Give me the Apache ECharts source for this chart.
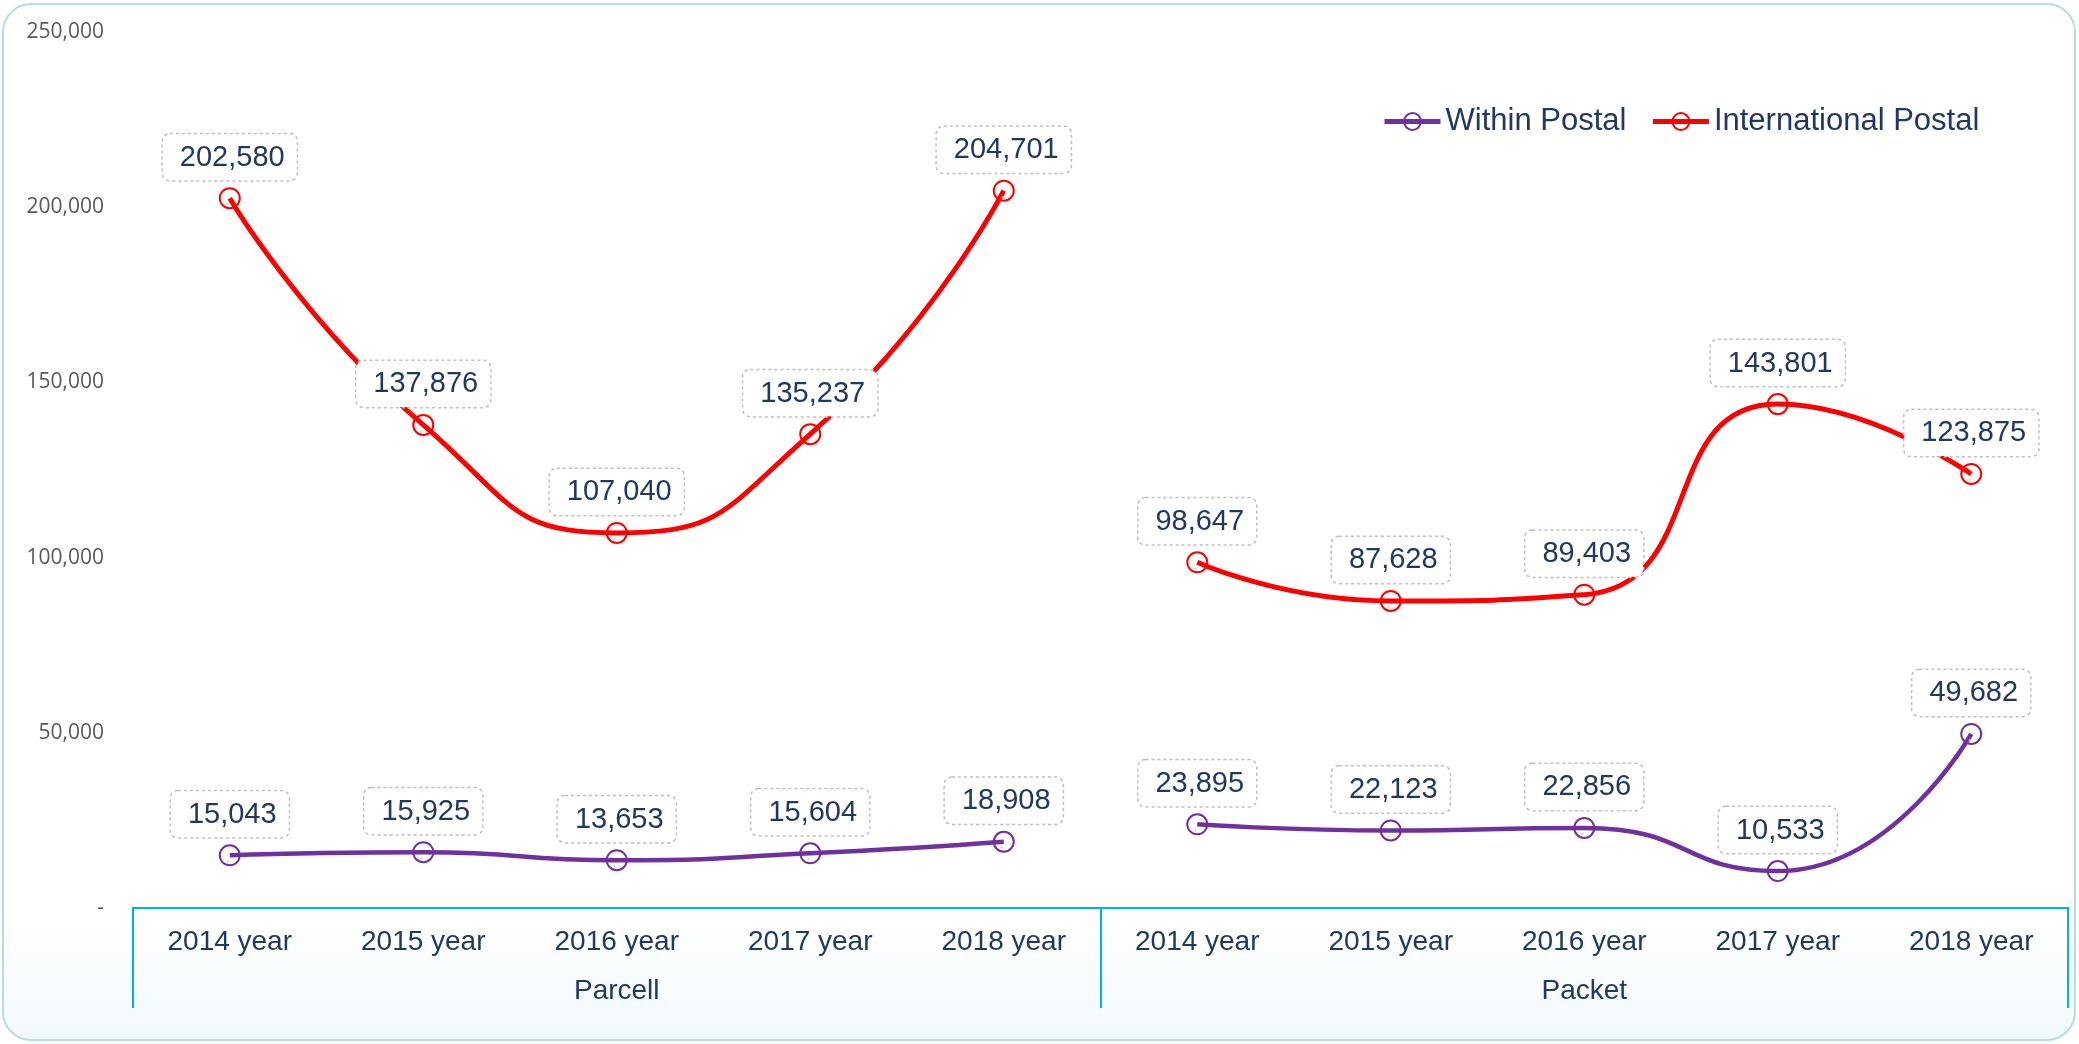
<!DOCTYPE html>
<html>
<head>
<meta charset="utf-8">
<script src="https://cdn.jsdelivr.net/npm/echarts@6/dist/echarts.min.js"></script>
<style>
  html, body { margin: 0; padding: 0; background: #ffffff; }
  #chart { width: 2079px; height: 1044px; }
</style>
</head>
<body>
<div id="chart"></div>
<script>
// Mail volume by year, split into two groups on a two-level category axis
const groups = ['Parcell', 'Packet'];
const years = ['2014 year', '2015 year', '2016 year', '2017 year', '2018 year'];

const parcellWithin = [15043, 15925, 13653, 15604, 18908];
const parcellIntl = [202580, 137876, 107040, 135237, 204701];
const packetWithin = [23895, 22123, 22856, 10533, 49682];
const packetIntl = [98647, 87628, 89403, 143801, 123875];

const yMin = 0;
const yMax = 250000;
const yStep = 50000;

// Category keys carry the group so repeated year labels stay distinct
const categories = [];
groups.forEach(g => years.forEach(y => categories.push(g + '|' + y)));

const blank = years.map(() => '-');
const firstGroup = vals => vals.concat(blank);
const secondGroup = vals => blank.concat(vals);

const NAVY = '#1F3864';
const PURPLE = '#7030A0';
const RED = '#FF0000';
const SANS = 'Liberation Sans, Arial, sans-serif';
const fmt = v => Number(v).toLocaleString('en-US');

function lineSeries(name, color, width, data) {
  return {
    name: name,
    type: 'line',
    smooth: 0.55,
    data: data,
    symbol: 'circle',
    symbolSize: 20,
    lineStyle: { color: color, width: width },
    itemStyle: { color: 'rgba(255,255,255,0)', borderColor: color, borderWidth: 2 },
    label: {
      show: true,
      position: 'top',
      distance: 7,
      formatter: p => fmt(p.value),
      fontFamily: SANS,
      fontSize: 29,
      color: NAVY,
      backgroundColor: '#ffffff',
      borderColor: '#BFBFBF',
      borderWidth: 1.5,
      borderType: 'dotted',
      borderRadius: 7,
      padding: [9, 12, 8, 17]
    },
    labelLine: {
      show: true,
      lineStyle: { color: '#BFBFBF', width: 1.5, type: 'dotted' }
    },
    emphasis: { disabled: true }
  };
}

const chart = echarts.init(document.getElementById('chart'));
chart.setOption({
  animation: false,
  backgroundColor: '#ffffff',
  graphic: [{
    type: 'rect',
    z: -10,
    silent: true,
    shape: { x: 3, y: 4, width: 2072, height: 1036, r: 28 },
    style: {
      fill: {
        type: 'linear', x: 0, y: 0, x2: 0, y2: 1,
        colorStops: [
          { offset: 0, color: '#ffffff' },
          { offset: 0.88, color: '#ffffff' },
          { offset: 1, color: '#F1F9FC' }
        ]
      },
      stroke: '#B5DDE8',
      lineWidth: 2
    }
  }],
  legend: {
    left: 1377,
    top: 101,
    itemWidth: 56,
    itemHeight: 21,
    itemGap: 24,
    data: [
      { name: 'Within Postal', lineStyle: { width: 5 } },
      { name: 'International Postal', lineStyle: { width: 5 } }
    ],
    textStyle: { fontFamily: SANS, fontSize: 31, color: NAVY }
  },
  grid: { left: 133, right: 11, top: 32, bottom: 136, containLabel: false },
  xAxis: [{
    type: 'category',
    position: 'bottom',
    data: categories,
    boundaryGap: true,
    axisLine: { show: true, lineStyle: { color: '#00B0F0', width: 2 } },
    axisTick: { show: false },
    axisLabel: {
      interval: 0,
      margin: 20,
      formatter: v => v.split('|')[1],
      fontFamily: SANS,
      fontSize: 28,
      color: NAVY
    },
    splitLine: { show: false }
  }, {
    type: 'category',
    position: 'bottom',
    data: groups,
    boundaryGap: true,
    axisLine: { show: true, lineStyle: { color: '#00B0F0', width: 2 } },
    axisTick: { show: true, interval: 0, length: 100, lineStyle: { color: '#00B0F0', width: 2 } },
    axisLabel: {
      interval: 0,
      margin: 69,
      fontFamily: SANS,
      fontSize: 28,
      color: NAVY
    },
    splitLine: { show: false }
  }],
  yAxis: {
    type: 'value',
    min: yMin,
    max: yMax,
    interval: yStep,
    axisLine: { show: false },
    axisTick: { show: false },
    splitLine: { show: false },
    axisLabel: {
      margin: 29,
      formatter: v => (v === 0 ? '-' : fmt(v)),
      fontFamily: 'Open Sans, sans-serif',
      fontSize: 21,
      color: '#595959'
    }
  },
  series: [
    lineSeries('Within Postal', PURPLE, 4.5, firstGroup(parcellWithin)),
    lineSeries('Within Postal', PURPLE, 4.5, secondGroup(packetWithin)),
    lineSeries('International Postal', RED, 5, firstGroup(parcellIntl)),
    lineSeries('International Postal', RED, 5, secondGroup(packetIntl))
  ]
});
</script>
</body>
</html>
